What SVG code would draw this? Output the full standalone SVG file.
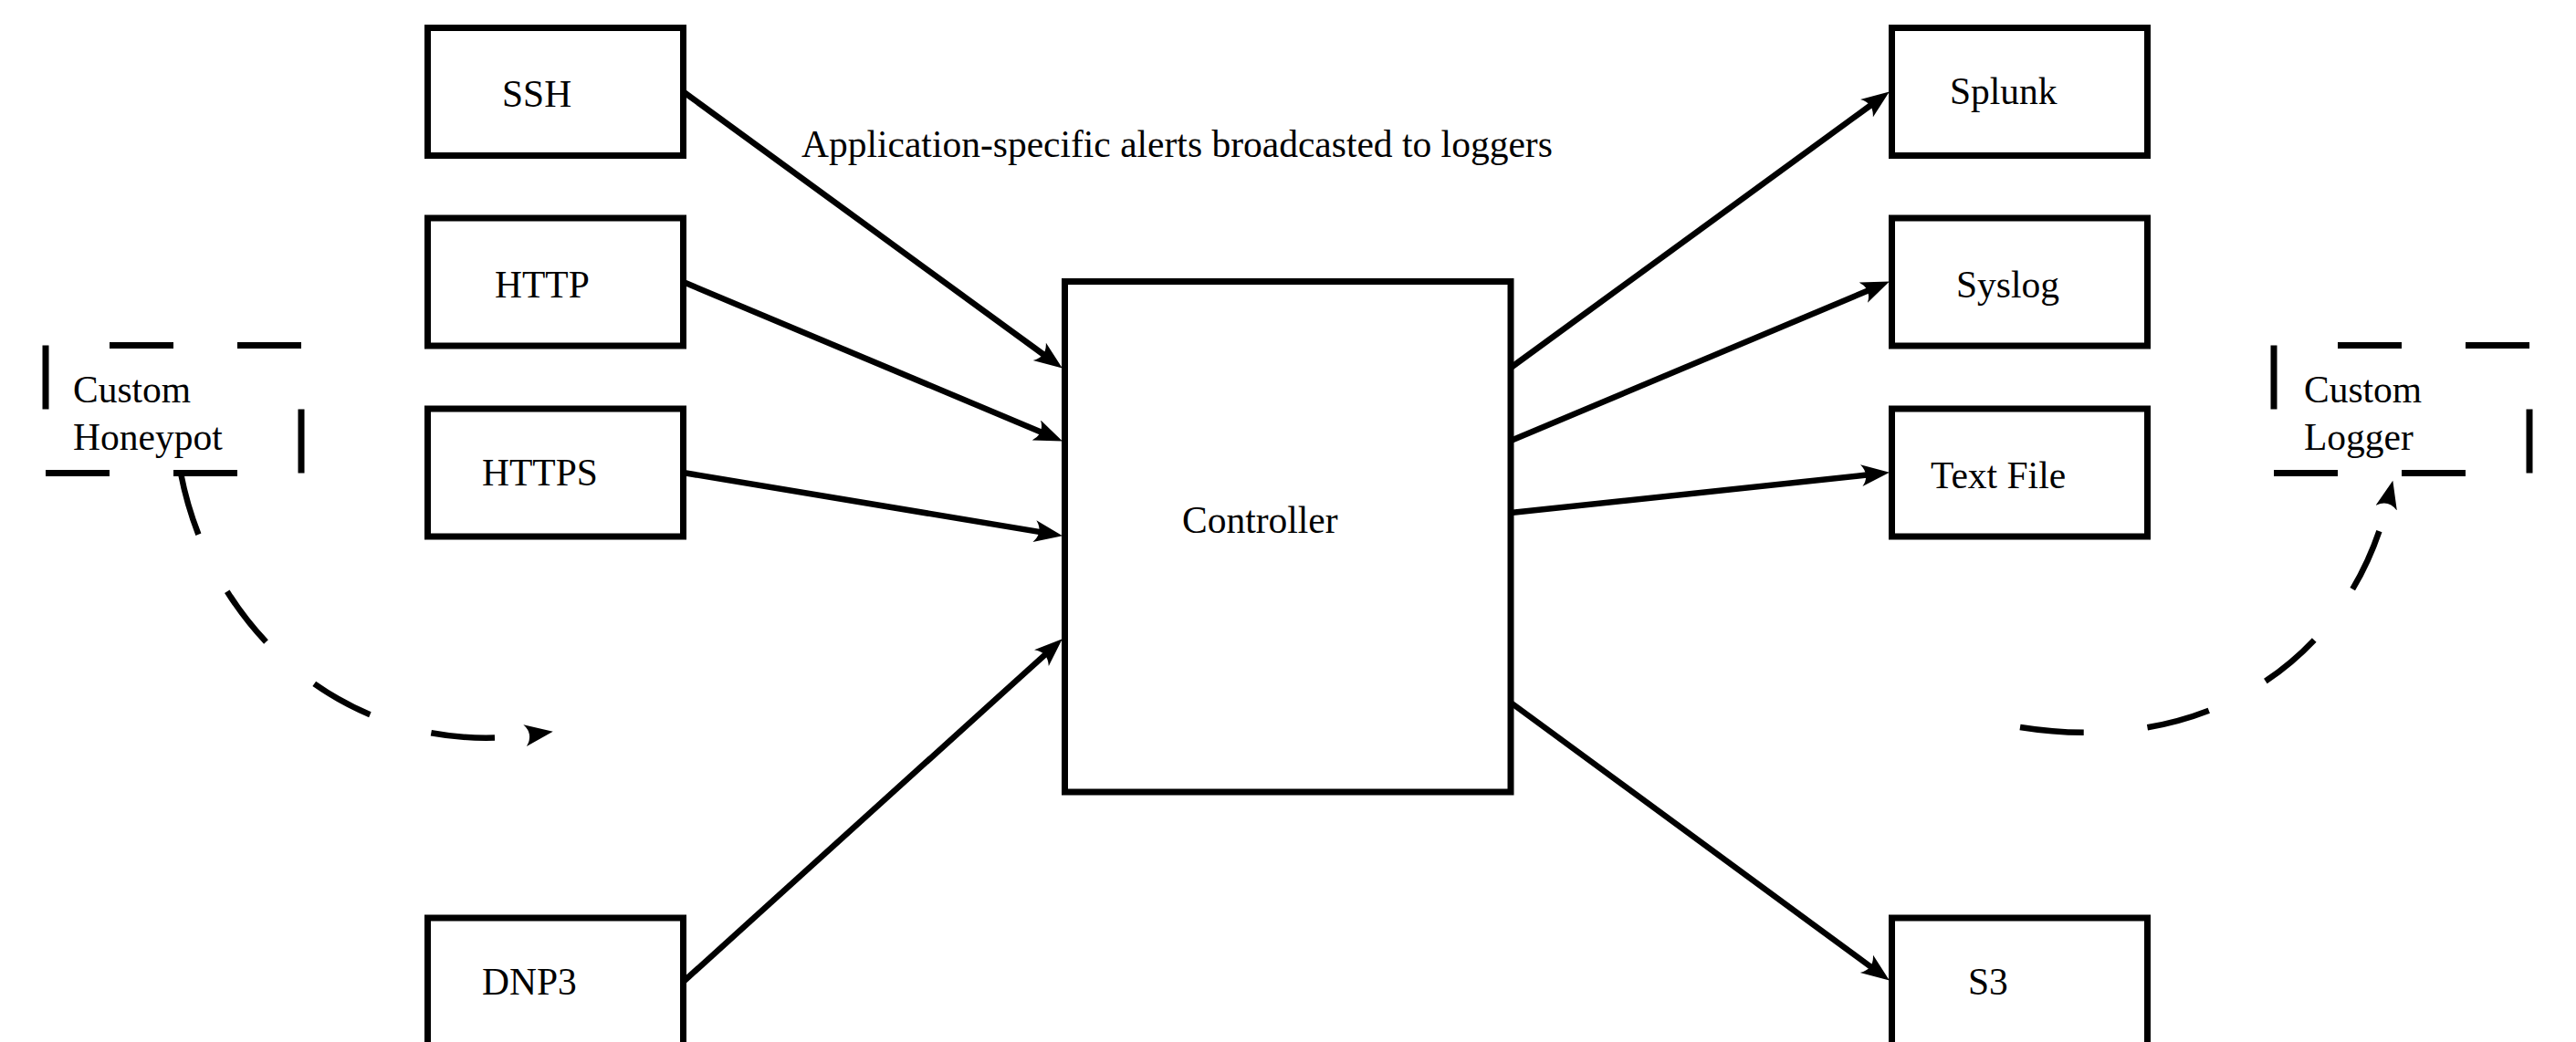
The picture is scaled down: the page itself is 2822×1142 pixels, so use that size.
<svg xmlns="http://www.w3.org/2000/svg" width="2822" height="1142" viewBox="0 0 2822 1142">
  <style>
    .box { fill: #ffffff; stroke: #000000; stroke-width: 7; }
    .dashed { fill: none; stroke: #000000; stroke-width: 7; stroke-dasharray: 70 70; }
    .label { font-family: "Liberation Serif", "Times New Roman", serif; font-size: 41.5px; fill: #000000; }
    .edge { fill: none; stroke: #000000; stroke-width: 6.5; marker-end: url(#arrow); }
    .edge-dashed { fill: none; stroke: #000000; stroke-width: 6.5; stroke-dasharray: 70 70; marker-end: url(#arrow); }
  </style>
  <defs>
    <marker id="arrow" markerUnits="userSpaceOnUse" markerWidth="32" markerHeight="25" viewBox="0 0 32 25" refX="8" refY="12" orient="auto">
      <path d="M31,12 L0,0 Q10,12 0,24 Z" fill="#000000"/>
    </marker>
  </defs>

  <rect width="2822" height="1142" fill="#ffffff"/>

  <!-- honeypot services -->
  <g id="node-ssh">
    <rect class="box" x="468.5" y="30.5" width="280" height="140"/>
    <text class="label" x="550" y="117">SSH</text>
  </g>
  <g id="node-http">
    <rect class="box" x="468.5" y="239" width="280" height="140"/>
    <text class="label" x="542" y="326">HTTP</text>
  </g>
  <g id="node-https">
    <rect class="box" x="468.5" y="448" width="280" height="140"/>
    <text class="label" x="528" y="532">HTTPS</text>
  </g>
  <g id="node-dnp3">
    <rect class="box" x="468.5" y="1006" width="280" height="142"/>
    <text class="label" x="528" y="1090">DNP3</text>
  </g>
  <g id="node-custom-honeypot">
    <path class="dashed" d="M50,378.5 V518.5 H330 V378.5 Z"/>
    <text class="label" x="80" y="441">Custom</text>
    <text class="label" x="80" y="493">Honeypot</text>
  </g>

  <!-- central controller -->
  <g id="node-controller">
    <rect class="box" x="1166.5" y="308.5" width="488.5" height="559.5"/>
    <text class="label" x="1295" y="584">Controller</text>
  </g>

  <!-- logger outputs -->
  <g id="node-splunk">
    <rect class="box" x="2072.5" y="30.5" width="280" height="140"/>
    <text class="label" x="2136" y="114">Splunk</text>
  </g>
  <g id="node-syslog">
    <rect class="box" x="2072.5" y="239" width="280" height="140"/>
    <text class="label" x="2143" y="326">Syslog</text>
  </g>
  <g id="node-textfile">
    <rect class="box" x="2072.5" y="448" width="280" height="140"/>
    <text class="label" x="2115" y="535">Text File</text>
  </g>
  <g id="node-s3">
    <rect class="box" x="2072.5" y="1006" width="280" height="142"/>
    <text class="label" x="2156" y="1090">S3</text>
  </g>
  <g id="node-custom-logger">
    <path class="dashed" d="M2491,378.5 V518.5 H2771 V378.5 Z"/>
    <text class="label" x="2524" y="441">Custom</text>
    <text class="label" x="2524" y="493">Logger</text>
  </g>

  <g id="edge-label">
    <text class="label" x="878" y="172">Application-specific alerts broadcasted to loggers</text>
  </g>

  <!-- connectors -->
  <g id="connectors">
    <path class="edge" d="M748.5,100.5 L1145.2,390"/>
    <path class="edge" d="M748.5,309 L1142.7,474.5"/>
    <path class="edge" d="M748.5,518 L1141.3,583.4"/>
    <path class="edge" d="M748.5,1076 L1146.7,715.8"/>
    <path class="edge" d="M1655,403 L2051.2,114"/>
    <path class="edge" d="M1655,483 L2048.7,317.5"/>
    <path class="edge" d="M1655,562 L2047.1,520.3"/>
    <path class="edge" d="M1655,770 L2051.3,1061"/>
    <path class="edge-dashed" d="M198,518.5 C233,700 392,833 583,805"/>
    <path class="edge-dashed" d="M2213,797 C2420,830 2575,721 2616,549"/>
  </g>
</svg>
